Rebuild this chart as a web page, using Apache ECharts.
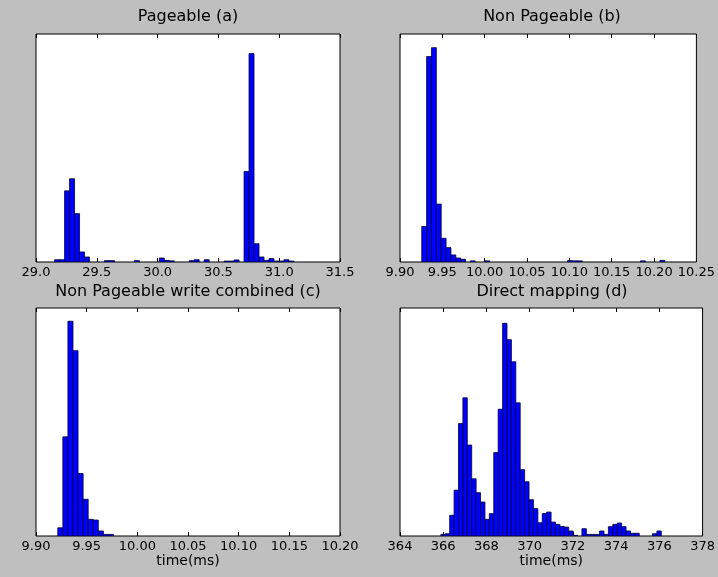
<!DOCTYPE html>
<html>
<head>
<meta charset="utf-8">
<script src="https://cdn.jsdelivr.net/npm/echarts@6/dist/echarts.min.js"></script>
<style>
html,body{margin:0;padding:0;background:#bfbfbf;}
#chart{width:718px;height:577px;}
</style>
</head>
<body>
<div id="chart"></div>
<script>
// ---- Data (histogram bins: start, bin width, counts as % of axis height) ----
const titles = ["Pageable (a)", "Non Pageable (b)", "Non Pageable write combined (c)", "Direct mapping (d)"];
const xLabel = "time(ms)";

const aStart = 29.153, aWidth = 0.041;
const aCounts = [1.0,1.0,31.2,36.5,21.2,4.4,2.2,0,0,0,0.6,0.6,0,0,0,0,0.6,0,0,0,0,1.75,0.7,0.5,0,0,0,0.6,1.0,0,1.0,0,0,0,0.4,0.4,0.9,0,39.7,91.4,8.0,2.2,0.7,1.5,0.4,0.4,1.0,0.4,0,0];

const bStart = 9.9257, bWidth = 0.00574;
const bCounts = [15.6,90.1,94.0,25.4,10.4,6.3,3.1,1.75,1.2,0,0.5,0,0,0.5,0,0,0,0,0,0,0,0,0,0,0,0,0,0,0,0,0.6,0.5,0.5,0,0,0,0,0,0,0,0,0,0,0,0,0.5,0,0,0,0.7];

const cStart = 9.9215, cWidth = 0.005;
const cCounts = [3.6,43.5,94.2,81.3,27.4,16.1,7.3,7.0,2.2,0.7,0.7];

const dStart = 365.89, dWidth = 0.204;
const dCounts = [0.7,1.0,9.1,20.1,49.3,60.6,39.9,25.1,19.0,14.9,7.3,9.8,36.6,55.6,93.3,86.1,76.4,58.4,29.1,23.8,15.9,12.0,5.8,9.9,10.5,6.1,5.1,4.2,3.9,2.2,0.3,0,3.2,0.7,0.7,0.7,2.2,0.7,4.1,5.1,5.7,4.1,2.2,1.2,1.2,0,0,0,1.0,2.2];

const xMins = [29.0, 9.90, 9.90, 364];
const xMaxs = [31.5, 10.25, 10.20, 378];
const xIntervals = [0.5, 0.05, 0.05, 2];
const xDecimals = [1, 2, 2, 0];

// ---- Build ----
function bins(start, w, counts){
  const out = [];
  counts.forEach((c,i)=>{ if(c>0) out.push([start+i*w, start+(i+1)*w, c]); });
  return out;
}
const seriesData = [bins(aStart,aWidth,aCounts), bins(bStart,bWidth,bCounts), bins(cStart,cWidth,cCounts), bins(dStart,dWidth,dCounts)];

const gridPos = [
  {left:36, top:34, width:304, height:228},
  {left:400, top:34, width:304, height:228},
  {left:36, top:308, width:304, height:228},
  {left:400, top:308, width:304, height:228}
];
const titleCenters = [[188,9],[552,9],[188,284],[552,284]];
const font = "DejaVu Sans";

const option = {
  backgroundColor:'#bfbfbf',
  animation:false,
  title: titles.map((t,i)=>({
    text:t, left:titleCenters[i][0], top:titleCenters[i][1], textAlign:'center', padding:0,
    textStyle:{fontFamily:font, fontSize:16, fontWeight:'normal', color:'#000'}
  })),
  grid: gridPos.map(g=>Object.assign({show:true, backgroundColor:'#fff', borderColor:'#000', borderWidth:1}, g)),
  xAxis: [],
  yAxis: [],
  series: []
};

for(let i=0;i<4;i++){
  const dec = xDecimals[i];
  option.xAxis.push({
    type:'value', gridIndex:i, position:'bottom', min:xMins[i], max:xMaxs[i], interval:xIntervals[i],
    axisLine:{show:false}, splitLine:{show:false},
    axisTick:{show:true, inside:true, length:4, lineStyle:{color:'#000', width:1}},
    axisLabel:{show:true, margin:4, showMinLabel:true, showMaxLabel:true, fontFamily:font, fontSize:13, color:'#000',
      formatter:v=>Number(v).toFixed(dec)},
    name: i>=2 ? xLabel : '', nameLocation:'middle', nameGap:17,
    nameTextStyle:{fontFamily:font, fontSize:14, color:'#000', verticalAlign:'top'}
  });
  option.xAxis.push({
    type:'value', gridIndex:i, position:'top', min:xMins[i], max:xMaxs[i], interval:xIntervals[i],
    axisLine:{show:false}, splitLine:{show:false}, axisLabel:{show:false},
    axisTick:{show:true, inside:true, length:4, lineStyle:{color:'#000', width:1}}
  });
  option.yAxis.push({
    type:'value', gridIndex:i, min:0, max:100,
    axisLine:{show:false}, axisTick:{show:false}, axisLabel:{show:false}, splitLine:{show:false}
  });
  option.series.push({
    type:'custom', xAxisIndex:i*2, yAxisIndex:i, data:seriesData[i], clip:true,
    renderItem:(params, api)=>{
      const p0 = api.coord([api.value(0), api.value(2)]);
      const p1 = api.coord([api.value(1), 0]);
      return {type:'rect', shape:{x:p0[0], y:p0[1], width:p1[0]-p0[0], height:p1[1]-p0[1]},
        style:{fill:'#0000ff', stroke:'#000033', lineWidth:0.8}};
    }
  });
}

const chart = echarts.init(document.getElementById('chart'), null, {renderer:'canvas'});
chart.setOption(option);
</script>
</body>
</html>
